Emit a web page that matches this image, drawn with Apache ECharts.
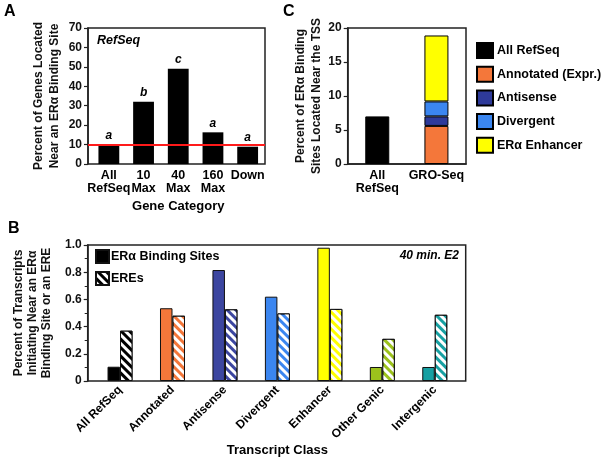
<!DOCTYPE html>
<html><head><meta charset="utf-8">
<script src="https://cdn.jsdelivr.net/npm/echarts@6/dist/echarts.min.js"></script>
<style>html,body{margin:0;padding:0;background:#fff}#c{width:605px;height:462px}</style>
</head><body><div id="c"></div>
<script>
// ---- Panel A data ----
const catsA = ['All\nRefSeq', '10\nMax', '40\nMax', '160\nMax', 'Down'];
const valsA = [10, 32, 49, 16.3, 8.9];
const lettersA = ['a', 'b', 'c', 'a', 'a'];
const refLineA = 10;
const ticksA = {min: 0, max: 70, interval: 10};

// ---- Panel C data ----
const catsC = ['All\nRefSeq', 'GRO-Seq'];
const cAllRefSeq = [7.0, '-'];
const cAnnotated = ['-', 5.6];
const cAntisense = ['-', 1.4];
const cDivergent = ['-', 2.2];
const cEnhancer = ['-', 9.7];
const ticksC = {min: 0, max: 20, interval: 5};

// ---- Panel B data ----
const catsB = ['All RefSeq', 'Annotated', 'Antisense', 'Divergent', 'Enhancer', 'Other Genic', 'Intergenic'];
const bBinding = [0.105, 0.535, 0.816, 0.62, 0.98, 0.103, 0.103];
const bEREs = [0.37, 0.48, 0.527, 0.497, 0.53, 0.31, 0.487];
const ticksB = {min: 0, max: 1, interval: 0.2};

// ---- styles ----
const colorsB = ['#000000', '#f4773a', '#3c46a0', '#3b86f0', '#ffff00', '#9cc21c', '#16a0a2'];
const colorsC = {all: '#000000', ann: '#f4773a', anti: '#2e3a9a', div: '#3b86f0', enh: '#ffff00'};
const F = "'Liberation Sans', Arial, sans-serif";
const AX = '#222';
const txt = (size, extra) => Object.assign({fontFamily: F, fontWeight: 'bold', fontSize: size, color: '#111'}, extra || {});
const hatch = {symbol: 'rect', symbolSize: 1, dashArrayX: [1, 0], dashArrayY: [2.6, 2.6], rotation: Math.PI / 4, color: '#ffffff'};

const chart = echarts.init(document.getElementById('c'), null, {renderer: 'canvas'});

const frameGrid = (l, t, w, h) => ({left: l, top: t, width: w, height: h, show: true, borderColor: AX, borderWidth: 1.5, backgroundColor: 'transparent', containLabel: false});
const dataGrid = (l, t, w, h) => ({left: l, top: t, width: w, height: h, containLabel: false});

const frameY = (gi, sc, name, gap, lh, fmt) => ({
  type: 'value', gridIndex: gi, min: sc.min, max: sc.max, interval: sc.interval,
  axisLine: {show: true, lineStyle: {color: AX, width: 1.5}},
  axisTick: {show: true, length: 4, lineStyle: {color: AX, width: 1.2}},
  splitLine: {show: false},
  axisLabel: txt(12, {margin: 6, formatter: fmt}),
  name: name, nameLocation: 'middle', nameRotate: 90, nameGap: gap,
  nameTextStyle: txt(12, {lineHeight: lh})
});
const hiddenY = (gi, sc) => ({type: 'value', gridIndex: gi, min: sc.min, max: sc.max, interval: sc.interval, show: false});
const hiddenX = (gi) => ({type: 'value', gridIndex: gi, min: 0, max: 1, show: false});

const option = {
  animation: false,
  backgroundColor: '#fff',
  title: [
    {text: 'A', left: 4, top: 4, padding: 0, textStyle: txt(16, {color: '#000'})},
    {text: 'C', left: 283, top: 4, padding: 0, textStyle: txt(16, {color: '#000'})},
    {text: 'B', left: 8, top: 221, padding: 0, textStyle: txt(16, {color: '#000'})},
    {text: 'RefSeq', left: 97, top: 34, padding: 0, textStyle: txt(12.5, {fontStyle: 'italic', color: '#000'})},
    {text: '40 min. E2', right: 146, top: 250, padding: 0, textStyle: txt(12, {fontStyle: 'italic', color: '#000'})}
  ],
  legend: [
    {
      orient: 'vertical', left: 476, top: 42, padding: 0, itemWidth: 16, itemHeight: 15, itemGap: 6.7, icon: 'rect',
      data: ['All RefSeq', 'Annotated (Expr.)', 'Antisense', 'Divergent', 'ERα Enhancer'],
      textStyle: txt(12.5, {color: '#000', padding: [0, 0, 0, -1]}), selectedMode: false
    },
    {
      orient: 'vertical', left: 95, top: 249, padding: 0, itemWidth: 13, itemHeight: 13, itemGap: 7, icon: 'rect',
      data: ['ERα Binding Sites', 'EREs'],
      textStyle: txt(12.5, {color: '#000', padding: [0, 0, 0, -3]}), selectedMode: false
    }
  ],
  grid: [
    frameGrid(88, 28, 177, 136),        // 0 A frame
    dataGrid(91.5, 28, 173.5, 136),     // 1 A data
    frameGrid(347.7, 28, 118.3, 136),   // 2 C
    frameGrid(87.7, 245, 378, 136),     // 3 B frame
    dataGrid(93.8, 245, 367.2, 136)     // 4 B data
  ],
  xAxis: [
    hiddenX(0),
    {type: 'category', gridIndex: 1, data: catsA, axisLine: {show: false}, axisTick: {show: false},
     axisLabel: txt(12.5, {margin: 5, lineHeight: 13, interval: 0, color: '#000'}),
     name: 'Gene Category', nameLocation: 'middle', nameGap: 36, nameTextStyle: txt(13, {color: '#000'})},
    {type: 'category', gridIndex: 2, data: catsC, axisLine: {show: true, lineStyle: {color: AX, width: 1.5}}, axisTick: {show: false},
     axisLabel: txt(12.5, {margin: 5, lineHeight: 13, interval: 0, color: '#000'})},
    hiddenX(3),
    {type: 'category', gridIndex: 4, data: catsB, axisLine: {show: false}, axisTick: {show: false},
     axisLabel: txt(12, {margin: 7, rotate: 45, interval: 0, color: '#000'}),
     name: 'Transcript Class', nameLocation: 'middle', nameGap: 62, nameTextStyle: txt(13, {color: '#000'})}
  ],
  yAxis: [
    frameY(0, ticksA, 'Percent of Genes Located\nNear an ERα Binding Site', 25, 16),
    hiddenY(1, ticksA),
    frameY(2, ticksC, 'Percent of ERα Binding\nSites Located Near the TSS', 22, 16),
    Object.assign(frameY(3, ticksB, 'Percent of Transcripts\nInitiating Near an ERα\nBinding Site or an ERE', 27, 14,
      v => v === 0 ? '0' : v.toFixed(1)),
      {minorTick: {show: true, splitNumber: 2, length: 3, lineStyle: {color: AX, width: 1}}}),
    hiddenY(4, ticksB)
  ],
  series: [
    // Panel A
    {type: 'line', xAxisIndex: 0, yAxisIndex: 0, data: [], silent: true,
     markLine: {symbol: 'none', silent: true, label: {show: false},
       lineStyle: {color: '#ff1a1a', width: 2, type: 'solid'}, data: [{yAxis: refLineA}]}},
    {type: 'bar', xAxisIndex: 1, yAxisIndex: 1, data: valsA, barWidth: '60%',
     itemStyle: {color: '#000'}, z: 1,
     label: {show: true, position: 'top', distance: 3,
       formatter: p => lettersA[p.dataIndex], ...txt(12, {fontStyle: 'italic', color: '#000'})}},
    // Panel C
    {name: 'All RefSeq', type: 'bar', stack: 'c', xAxisIndex: 2, yAxisIndex: 2, data: cAllRefSeq, barWidth: 24,
     itemStyle: {color: colorsC.all, borderColor: '#000', borderWidth: 1}},
    {name: 'Annotated (Expr.)', type: 'bar', stack: 'c', xAxisIndex: 2, yAxisIndex: 2, data: cAnnotated, barWidth: 24,
     itemStyle: {color: colorsC.ann, borderColor: '#000', borderWidth: 1}},
    {name: 'Antisense', type: 'bar', stack: 'c', xAxisIndex: 2, yAxisIndex: 2, data: cAntisense, barWidth: 24,
     itemStyle: {color: colorsC.anti, borderColor: '#000', borderWidth: 1}},
    {name: 'Divergent', type: 'bar', stack: 'c', xAxisIndex: 2, yAxisIndex: 2, data: cDivergent, barWidth: 24,
     itemStyle: {color: colorsC.div, borderColor: '#000', borderWidth: 1}},
    {name: 'ERα Enhancer', type: 'bar', stack: 'c', xAxisIndex: 2, yAxisIndex: 2, data: cEnhancer, barWidth: 24,
     itemStyle: {color: colorsC.enh, borderColor: '#000', borderWidth: 1}},
    // Panel B
    {name: 'ERα Binding Sites', type: 'bar', xAxisIndex: 4, yAxisIndex: 4, barWidth: 12.5, barGap: '0%',
     itemStyle: {color: '#000', borderColor: '#111', borderWidth: 1},
     data: bBinding.map((v, i) => ({value: v, itemStyle: {color: colorsB[i]}}))},
    {name: 'EREs', type: 'bar', xAxisIndex: 4, yAxisIndex: 4, barWidth: 12.5, barGap: '0%',
     itemStyle: {color: '#000', borderColor: '#111', borderWidth: 1, decal: hatch},
     data: bEREs.map((v, i) => ({value: v, itemStyle: {color: colorsB[i], decal: hatch}}))}
  ]
};
chart.setOption(option);
</script>
</body></html>
